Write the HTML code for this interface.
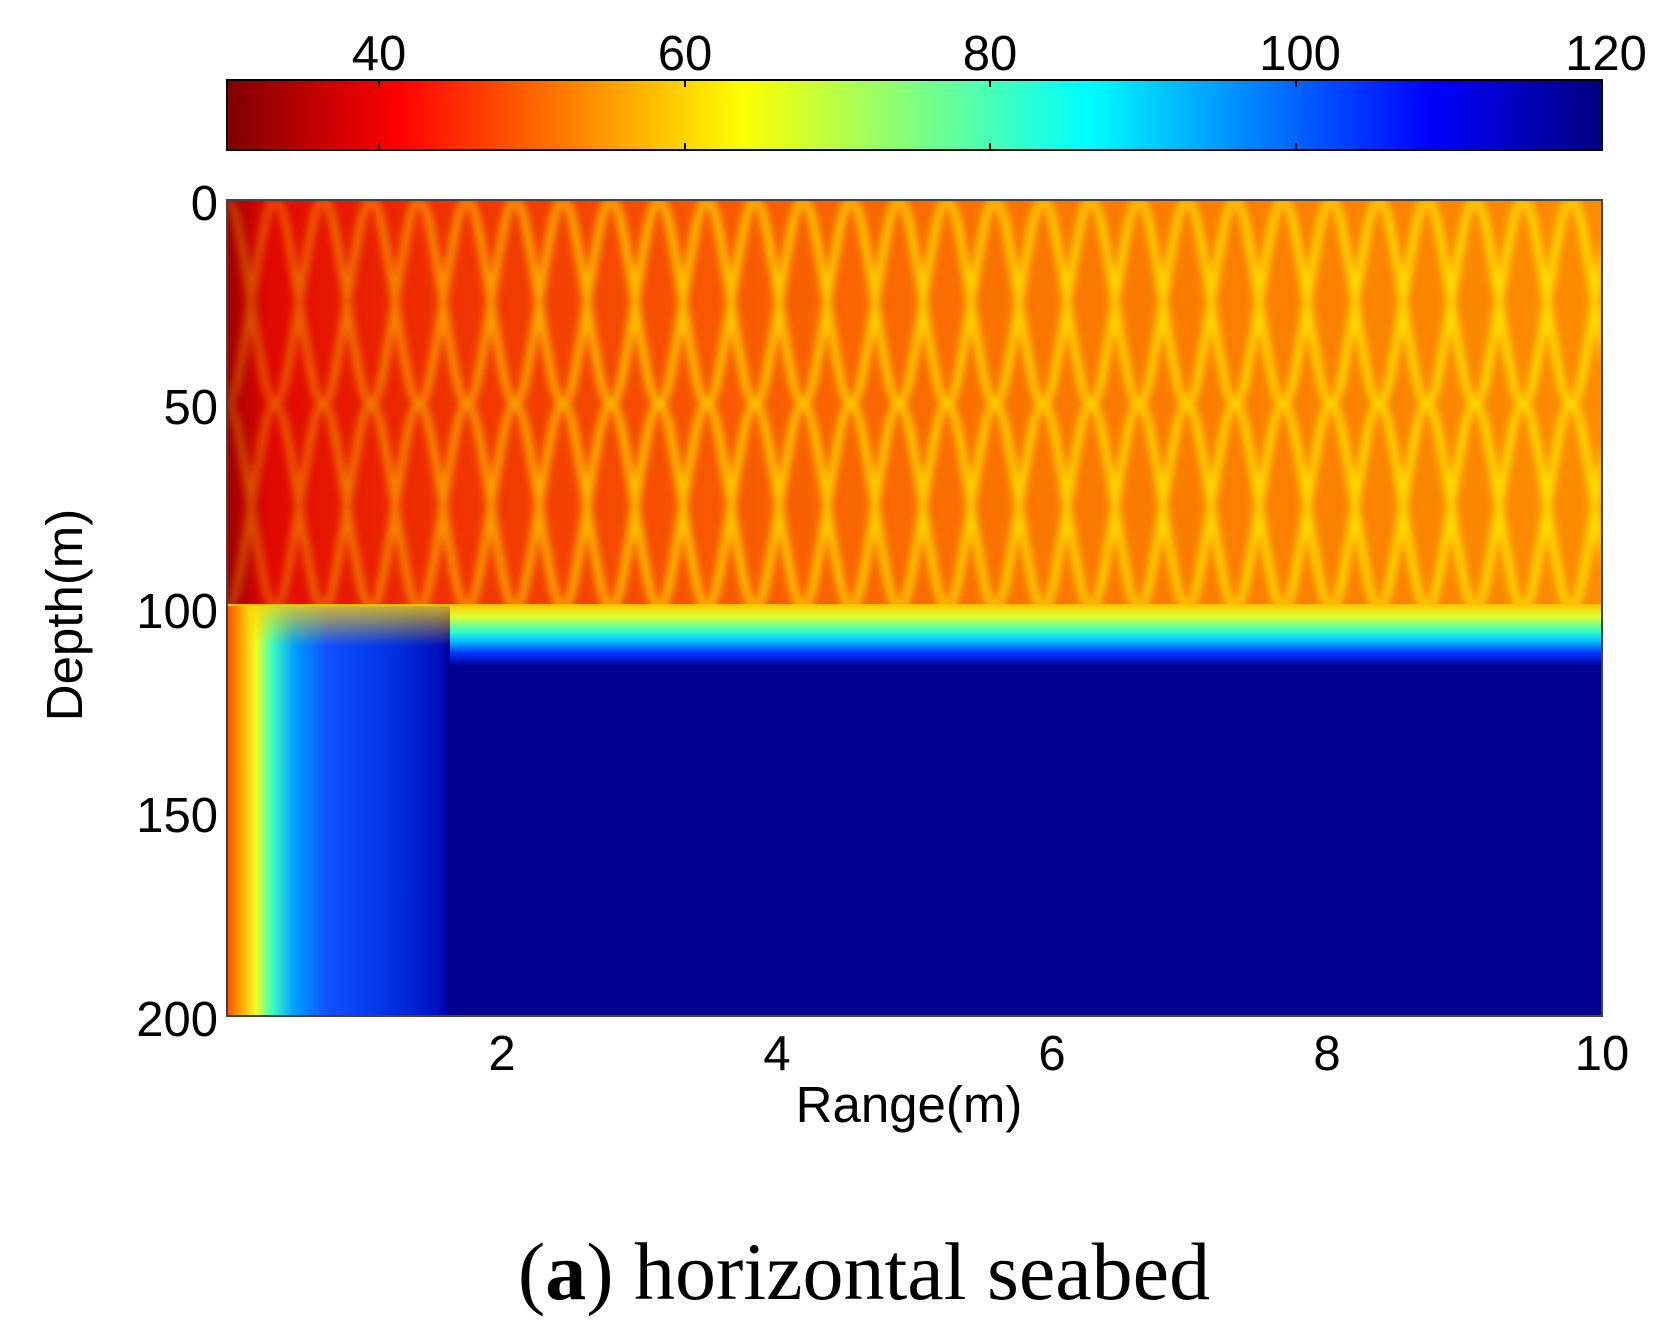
<!DOCTYPE html>
<html><head><meta charset="utf-8"><style>
html,body{margin:0;padding:0;background:#fff;}
svg{display:block}
text{font-family:"Liberation Sans",sans-serif;fill:#000}
</style></head><body>
<svg width="1668" height="1329" viewBox="0 0 1668 1329" xmlns="http://www.w3.org/2000/svg">
<defs>
<linearGradient id="jet" x1="0" x2="1" y1="0" y2="0">
<stop offset="0" stop-color="#800000"/>
<stop offset="0.125" stop-color="#ff0000"/>
<stop offset="0.375" stop-color="#ffff00"/>
<stop offset="0.625" stop-color="#00ffff"/>
<stop offset="0.875" stop-color="#0000ff"/>
<stop offset="1" stop-color="#000080"/>
</linearGradient>
<linearGradient id="topbg" x1="0" x2="1" y1="0" y2="0">
<stop offset="0" stop-color="#a00000"/>
<stop offset="0.03" stop-color="#e00800"/>
<stop offset="0.15" stop-color="#f03000"/>
<stop offset="0.35" stop-color="#f85800"/>
<stop offset="0.6" stop-color="#fa7800"/>
<stop offset="1" stop-color="#fc8c00"/>
</linearGradient>
<linearGradient id="band" x1="0" x2="0" y1="0" y2="1">
<stop offset="0" stop-color="#ffc000"/>
<stop offset="0.2" stop-color="#e0ff30"/>
<stop offset="0.45" stop-color="#30ffd0"/>
<stop offset="0.6" stop-color="#00c0ff"/>
<stop offset="0.8" stop-color="#0030ff"/>
<stop offset="1" stop-color="#000090"/>
</linearGradient>
<linearGradient id="leftstrip" x1="227" x2="450" y1="0" y2="0" gradientUnits="userSpaceOnUse">
<stop offset="0" stop-color="#ff5000"/>
<stop offset="0.06" stop-color="#ffa000"/>
<stop offset="0.13" stop-color="#f0ff20"/>
<stop offset="0.2" stop-color="#40ffc0"/>
<stop offset="0.3" stop-color="#00a0ff"/>
<stop offset="0.45" stop-color="#1050ff"/>
<stop offset="0.75" stop-color="#0030e0"/>
<stop offset="0.95" stop-color="#0010c0"/>
<stop offset="1" stop-color="#000090"/>
</linearGradient>
<linearGradient id="topfade" x1="0" x2="0" y1="0" y2="1">
<stop offset="0" stop-color="#ffd000" stop-opacity="0.8"/>
<stop offset="1" stop-color="#ffd000" stop-opacity="0"/>
</linearGradient>
<pattern id="waves" x="227" y="200" width="96" height="408" patternUnits="userSpaceOnUse">
<path d="M0,0 C16,0 32,204 48,204 C64,204 80,0 96,0" fill="none" stroke="#ffe000" stroke-width="8"/>
<path d="M0,204 C16,204 32,408 48,408 C64,408 80,204 96,204" fill="none" stroke="#ffe000" stroke-width="8"/>
<path d="M0,204 C16,204 32,0 48,0 C64,0 80,204 96,204" fill="none" stroke="#ffe000" stroke-width="8"/>
<path d="M0,408 C16,408 32,204 48,204 C64,204 80,408 96,408" fill="none" stroke="#ffe000" stroke-width="8"/>
</pattern>
<linearGradient id="fade" x1="0" x2="1" y1="0" y2="0">
<stop offset="0" stop-color="#fff" stop-opacity="0.3"/>
<stop offset="0.3" stop-color="#fff" stop-opacity="0.8"/>
<stop offset="1" stop-color="#fff" stop-opacity="1"/>
</linearGradient>
<mask id="m"><rect x="227" y="200" width="1375" height="408" fill="url(#fade)"/></mask>
<filter id="blur"><feGaussianBlur stdDeviation="4"/></filter>
</defs>

<!-- colorbar -->
<rect x="227" y="80" width="1375" height="70" fill="url(#jet)" stroke="#000" stroke-width="2"/>
<g stroke="#000" stroke-width="2">
<line x1="379" y1="80" x2="379" y2="87"/><line x1="379" y1="150" x2="379" y2="143"/>
<line x1="685" y1="80" x2="685" y2="87"/><line x1="685" y1="150" x2="685" y2="143"/>
<line x1="990" y1="80" x2="990" y2="87"/><line x1="990" y1="150" x2="990" y2="143"/>
<line x1="1296" y1="80" x2="1296" y2="87"/><line x1="1296" y1="150" x2="1296" y2="143"/>
</g>
<g font-size="49" text-anchor="middle">
<text x="379" y="70">40</text><text x="685" y="70">60</text><text x="990" y="70">80</text>
<text x="1300" y="70">100</text><text x="1606" y="70">120</text>
</g>

<!-- heatmap -->
<rect x="227" y="200" width="1375" height="816" fill="#000090"/>
<rect x="227" y="200" width="1375" height="408" fill="url(#topbg)"/>
<g mask="url(#m)" filter="url(#blur)"><rect x="227" y="200" width="1375" height="408" fill="url(#waves)"/></g>
<rect x="227" y="604" width="1375" height="62" fill="url(#band)"/>
<rect x="227" y="606" width="223" height="410" fill="url(#leftstrip)"/>
<rect x="250" y="606" width="200" height="40" fill="url(#topfade)"/>
<rect x="227" y="200" width="1375" height="816" fill="none" stroke="#444" stroke-width="2"/>

<g font-size="49" text-anchor="end">
<text x="218" y="220">0</text><text x="218" y="424">50</text><text x="218" y="628">100</text>
<text x="218" y="832">150</text><text x="218" y="1036">200</text>
</g>
<g font-size="49" text-anchor="middle">
<text x="502" y="1070">2</text><text x="777" y="1070">4</text><text x="1052" y="1070">6</text>
<text x="1327" y="1070">8</text><text x="1602" y="1070">10</text>
</g>
<text x="909" y="1122" font-size="51" text-anchor="middle">Range(m)</text>
<text transform="translate(82,615) rotate(-90)" font-size="51" text-anchor="middle">Depth(m)</text>

<text x="864" y="1299" font-size="82" text-anchor="middle" style="font-family:'Liberation Serif',serif">(<tspan font-weight="bold">a</tspan>) horizontal seabed</text>
</svg>
</body></html>
